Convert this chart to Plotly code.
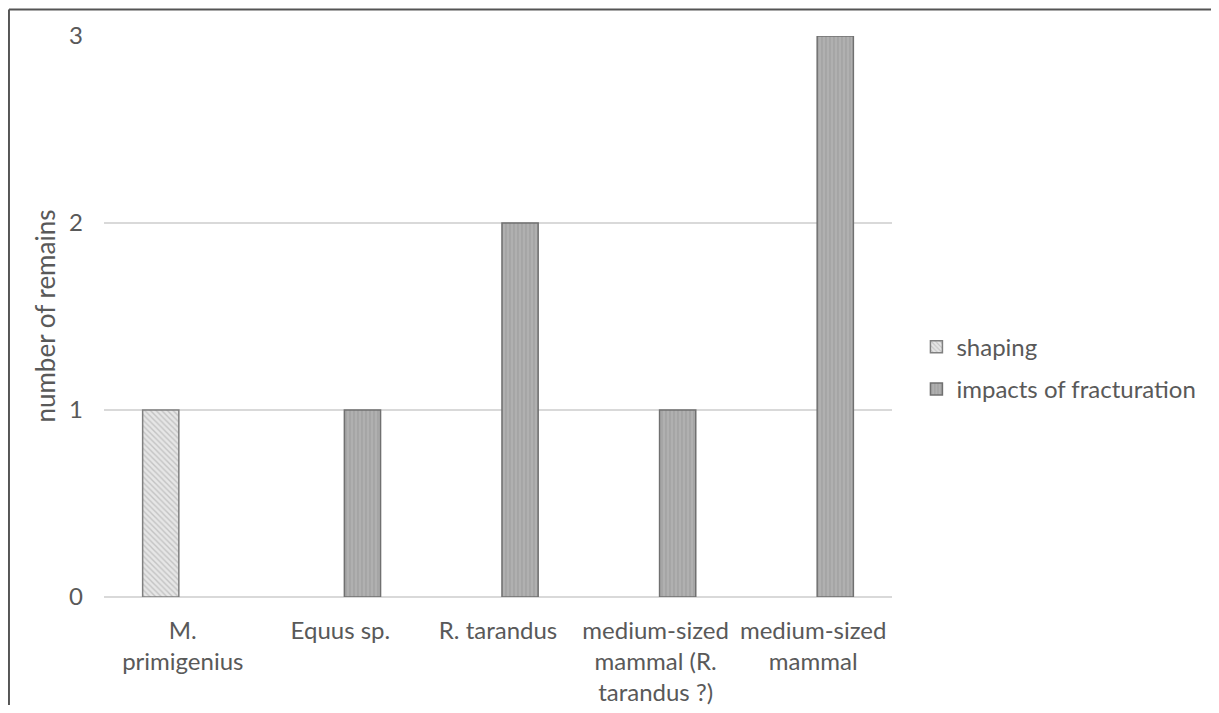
import plotly.graph_objects as go

categories = ["M.<br>primigenius", "Equus sp.", "R. tarandus",
              "medium-sized<br>mammal (R.<br>tarandus ?)", "medium-sized<br>mammal"]
shaping = [1, None, None, None, None]
impacts = [None, 1, 2, 1, 3]
y_ticks = [0, 1, 2, 3]

FONT = "Lato"
TXT = "#595959"

fig = go.Figure()
fig.add_trace(go.Bar(
    x=categories, y=shaping, name="shaping", legendgroup="a",
    marker=dict(color="#e6e6e6", line=dict(color="#808080", width=1.5),
                pattern=dict(shape="\\", fgcolor="#a0a0a0", size=4, solidity=0.35)),
))
fig.add_trace(go.Bar(
    x=categories, y=impacts, name="impacts of fracturation", legendgroup="b",
    marker=dict(color="#b0b0b0", line=dict(color="#707070", width=1.5),
                pattern=dict(shape="|", fgcolor="#8c8c8c", size=4, solidity=0.3)),
))

fig.update_layout(
    width=1203, height=697,
    paper_bgcolor="white", plot_bgcolor="white",
    margin=dict(l=96, r=319, t=28, b=108, autoexpand=False),
    barmode="group", bargap=0.44, bargroupgap=0.18,
    font=dict(family=FONT, size=24, color=TXT),
    showlegend=True,
    legend=dict(x=1.031, y=0.408, xanchor="left", yanchor="middle",
                font=dict(size=24, color=TXT), tracegroupgap=8,
                traceorder="grouped", itemwidth=30),
    xaxis=dict(showgrid=False, showline=False, ticks="", ticklabelstandoff=17,
               automargin=False, tickfont=dict(size=24, color=TXT)),
    yaxis=dict(range=[0, 3], tickvals=y_ticks, showgrid=True, gridcolor="#d9d9d9",
               gridwidth=2, zeroline=True, zerolinecolor="#d9d9d9", zerolinewidth=2,
               automargin=False, tickfont=dict(size=24, color=TXT), ticks="",
               ticklabelstandoff=20),
    annotations=[dict(text="number of remains", xref="paper", yref="paper",
                      x=-0.0761, y=0.5, xanchor="center", yanchor="middle",
                      textangle=-90, showarrow=False, font=dict(size=26, color=TXT))],
    shapes=[
        dict(type="line", xref="paper", yref="paper", x0=-0.1206, x1=1.5, y0=1.0472, y1=1.0472,
             line=dict(color="#555555", width=2)),
        dict(type="line", xref="paper", yref="paper", x0=-0.1206, x1=-0.1206, y0=-0.25, y1=1.0472,
             line=dict(color="#555555", width=2)),
    ],
)

fig.write_html("out.html")
